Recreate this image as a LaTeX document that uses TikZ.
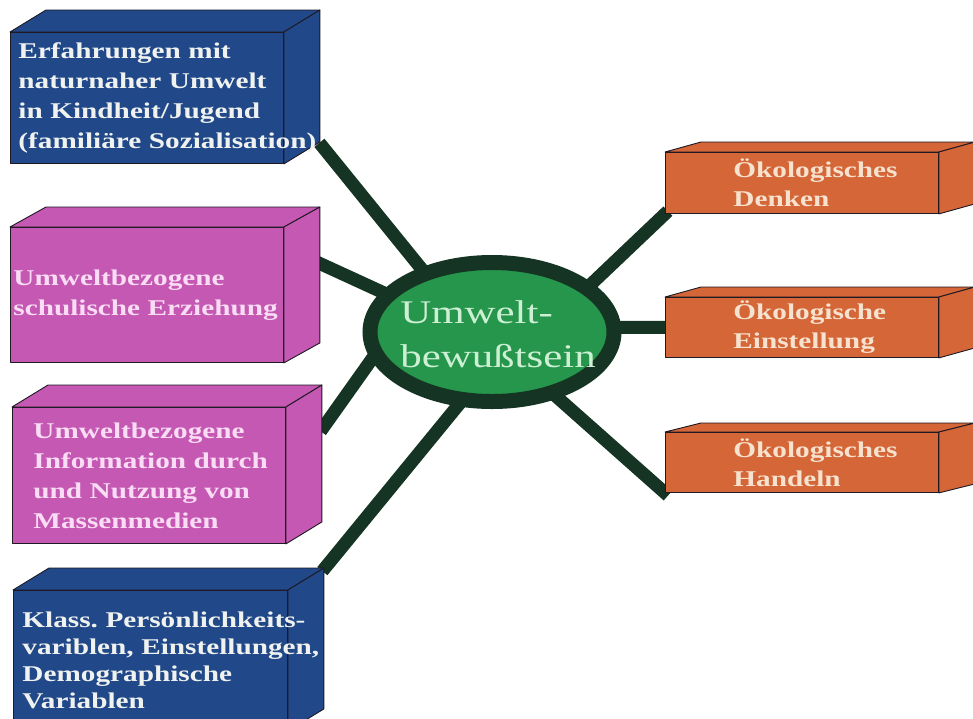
\documentclass[tikz,border=0pt]{standalone}
\usepackage{fontspec}
\setmainfont{Liberation Serif}
\newfontfamily\bxfont{Liberation Serif}[FakeStretch=1.3]
\usetikzlibrary{calc,backgrounds,shapes.geometric}
\pgfdeclarelayer{faces}
\pgfsetlayers{background,faces,main}
\frenchspacing
\definecolor{cblue}{RGB}{33,72,136}
\definecolor{cpink}{RGB}{196,88,178}
\definecolor{corange}{RGB}{212,102,56}
\definecolor{cgreen}{RGB}{38,150,76}
\definecolor{cdark}{RGB}{22,52,36}
\definecolor{tblue}{RGB}{240,242,240}
\definecolor{tpink}{RGB}{250,220,245}
\definecolor{torange}{RGB}{246,226,206}
\definecolor{tgreen}{RGB}{205,240,212}
\definecolor{cedge}{RGB}{30,25,35}
\tikzset{
  face/.style={draw=cedge, line width=0.9pt, line join=round},
  front/.style={face, anchor=north west, align=left, inner ysep=0pt,
    font=\bxfont\bfseries\fontsize{22.5}{30}\selectfont},
  bluebox/.style={front, fill=cblue, text=tblue},
  pinkbox/.style={front, fill=cpink, text=tpink},
  orangebox/.style={front, fill=corange, text=torange, text width=137pt, inner xsep=68pt,
    minimum height=61pt, font=\bxfont\bfseries\fontsize{22.5}{29}\selectfont},
  conn/.style={draw=cdark, line width=13pt, shorten >=-14pt, shorten <=-4pt},
}
\newcommand\boxfaces[4]{%
  \begin{pgfonlayer}{faces}
  \path[fill=#2, face] (#1.north west) -- ++(#3,#4) -- ($(#1.north east)+(#3,#4)$) -- (#1.north east) -- cycle;
  \path[fill=#2, face] (#1.north east) -- ++(#3,#4) -- ($(#1.south east)+(#3,#4)$) -- (#1.south east) -- cycle;
  \end{pgfonlayer}
}
\begin{document}
\begin{tikzpicture}[x=1pt,y=-1pt]
\useasboundingbox (0,0) rectangle (973,718);
% left boxes
\node[bluebox, text width=257pt, inner xsep=8pt, minimum height=131pt] (b1) at (10,32)
  {\mbox{Erfahrungen mit}\\\mbox{naturnaher Umwelt}\\\mbox{in Kindheit/Jugend}\\\mbox{(familiäre Sozialisation)}};
\boxfaces{b1}{cblue}{36}{-22}
\node[pinkbox, text width=267pt, inner xsep=3pt, minimum height=135pt] (b2) at (10,227)
  {\mbox{Umweltbezogene}\\\mbox{schulische Erziehung}};
\boxfaces{b2}{cpink}{36}{-20}
\node[pinkbox, text width=231pt, inner xsep=21pt, minimum height=136pt] (b3) at (12,407)
  {\mbox{Umweltbezogene}\\\mbox{Information durch}\\\mbox{und Nutzung von}\\\mbox{Massenmedien}};
\boxfaces{b3}{cpink}{36}{-22}
\node[bluebox, text width=256pt, inner xsep=9pt, minimum height=140pt,
  font=\bxfont\bfseries\fontsize{22.5}{27}\selectfont] (b4) at (13,590)
  {\mbox{Klass. Persönlichkeits-}\\\mbox{variblen, Einstellungen,}\\\mbox{Demographische}\\\mbox{Variablen}};
\boxfaces{b4}{cblue}{36}{-22}
% right boxes
\node[orangebox] (o1) at (665,152) {\mbox{Ökologisches}\\\mbox{Denken}};
\boxfaces{o1}{corange}{36}{-10}
\node[orangebox, minimum height=60pt] (o2) at (665,297) {\mbox{Ökologische}\\\mbox{Einstellung}};
\boxfaces{o2}{corange}{36}{-10}
\node[orangebox, minimum height=60pt] (o3) at (665,432) {\mbox{Ökologisches}\\\mbox{Handeln}};
\boxfaces{o3}{corange}{36}{-9}
% centre
\node[ellipse, fill=cgreen, draw=cdark, line width=15pt, minimum width=244pt, minimum height=139pt,
  inner sep=0pt, text=tgreen, font=\bxfont\fontsize{33}{44}\selectfont] (c) at (492,332)
  {\makebox[0pt]{\hspace*{12pt}\raisebox{-5pt}[\height][\depth]{\begin{tabular}{@{}l@{}}Umwelt-\\bewußtsein\end{tabular}}}};
% connector ends on boxes
\coordinate (p1) at ($(b1.south east)+(38,-18)$);
\coordinate (p2) at ($(b2.east)+(37,-31)$);
\coordinate (p3) at ($(b3.north east)+(37,21)$);
\coordinate (p4) at ($(b4.north east)+(37,-22)$);
\begin{pgfonlayer}{background}
  \fill[white] (0,0) rectangle (973,718);
  \draw[conn] (p1) -- (c.138);
  \draw[conn] (p2) -- (c.160);
  \draw[conn] (p3) -- (c.193);
  \draw[conn] (p4) -- (c.245);
  \draw[conn] (o1.south west) -- (c.26);
  \draw[conn] (o2.west) -- (c.2);
  \draw[conn] (o3.south west) -- (c.315);
\end{pgfonlayer}
\end{tikzpicture}
\end{document}
